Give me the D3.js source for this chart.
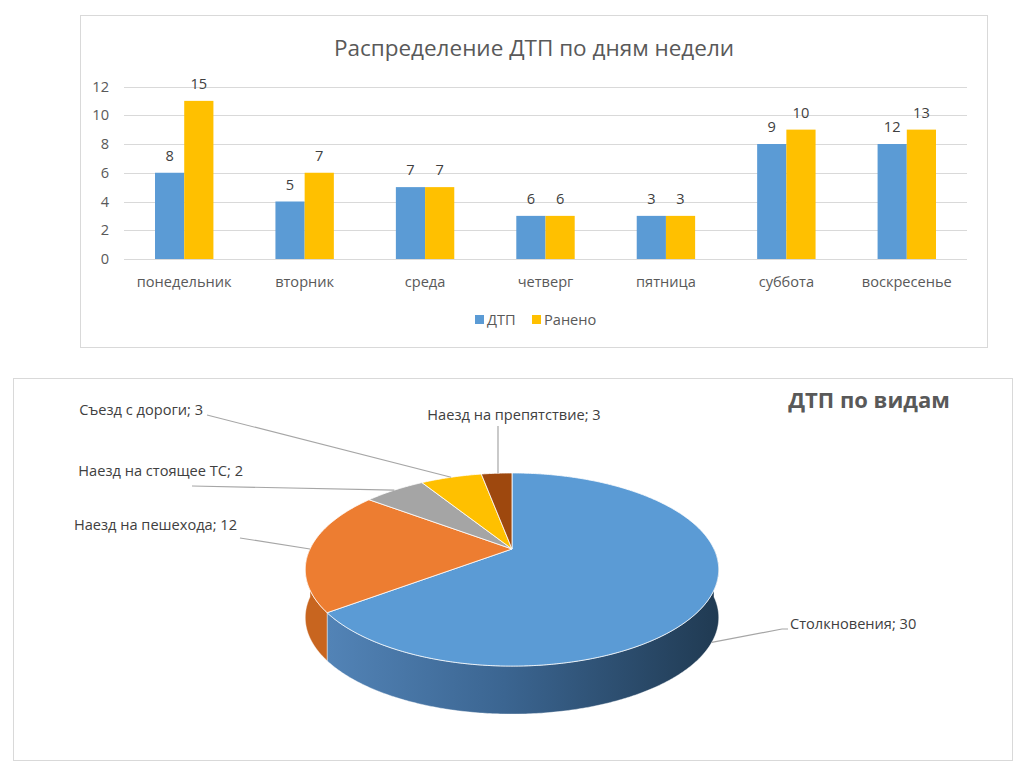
<!DOCTYPE html>
<html>
<head>
<meta charset="utf-8">
<script src="https://cdn.jsdelivr.net/npm/d3@7"></script>
<style>
  body { margin: 0; background: #fff; }
  text { font-family: "Open Sans", "Liberation Sans", sans-serif; fill: #404040; }
</style>
</head>
<body>
<svg id="chart" width="1024" height="767"></svg>
<script>
// bar chart data
const days = ["понедельник", "вторник", "среда", "четверг", "пятница", "суббота", "воскресенье"];
const dtpValues = [6, 4, 5, 3, 3, 8, 8];
const injuredValues = [11, 6, 5, 3, 3, 9, 9];
const dtpLabels = [8, 5, 7, 6, 3, 9, 12];
const injuredLabels = [15, 7, 7, 6, 3, 10, 13];
const yTicks = [0, 2, 4, 6, 8, 10, 12];
const seriesNames = ["ДТП", "Ранено"];

// pie chart data
const types = ["Столкновения", "Наезд на пешехода", "Наезд на стоящее ТС", "Съезд с дороги", "Наезд на препятствие"];
const typeValues = [22, 7, 2, 2, 1];
const typeLabels = [30, 12, 2, 3, 3];

const svg = d3.select("#chart");
const blue = "#5b9bd5", yellow = "#ffc000";
const fs = "14.6px";

// ---------- bar chart ----------
svg.append("rect")
    .attr("x", 80.5).attr("y", 15.5).attr("width", 907).attr("height", 332)
    .attr("fill", "#fff").attr("stroke", "#d9d9d9");

svg.append("text")
    .attr("x", 534).attr("y", 56)
    .attr("text-anchor", "middle")
    .style("font-size", "22.5px")
    .style("fill", "#595959")
    .text("Распределение ДТП по дням недели");

const x0 = d3.scaleBand()
    .domain(days)
    .range([124, 967])
    .paddingInner(0.515)
    .paddingOuter(0.2575);

const x1 = d3.scaleBand()
    .domain(seriesNames)
    .range([0, x0.bandwidth()]);

const y = d3.scaleLinear().domain([0, 12]).range([259, 86.5]);

// gridlines
svg.append("g")
    .selectAll("line")
    .data(yTicks)
    .enter()
    .append("line")
    .attr("x1", 124).attr("x2", 967)
    .attr("y1", d => Math.round(y(d)) + 0.5)
    .attr("y2", d => Math.round(y(d)) + 0.5)
    .attr("stroke", "#d9d9d9");

svg.append("g")
    .selectAll("text")
    .data(yTicks)
    .enter()
    .append("text")
    .attr("x", 109)
    .attr("y", d => y(d) + 5)
    .attr("text-anchor", "end")
    .style("font-size", fs)
    .style("fill", "#595959")
    .text(d => d);

const groups = svg.append("g")
    .selectAll("g")
    .data(days)
    .enter()
    .append("g")
    .attr("transform", d => `translate(${x0(d)},0)`);

const barData = (d, i) => [
    { s: "ДТП", v: dtpValues[i], l: dtpLabels[i], c: blue },
    { s: "Ранено", v: injuredValues[i], l: injuredLabels[i], c: yellow }
];

groups.selectAll("rect")
    .data(barData)
    .enter()
    .append("rect")
    .attr("x", d => x1(d.s))
    .attr("y", d => y(d.v))
    .attr("width", x1.bandwidth())
    .attr("height", d => y(0) - y(d.v))
    .attr("fill", d => d.c);

groups.selectAll("text")
    .data(barData)
    .enter()
    .append("text")
    .attr("x", d => x1(d.s) + x1.bandwidth() / 2)
    .attr("y", d => y(d.v) - 12)
    .attr("text-anchor", "middle")
    .style("font-size", fs)
    .style("fill", "#404040")
    .text(d => d.l);

svg.append("g")
    .selectAll("text")
    .data(days)
    .enter()
    .append("text")
    .attr("x", d => x0(d) + x0.bandwidth() / 2)
    .attr("y", 287)
    .attr("text-anchor", "middle")
    .style("font-size", fs)
    .style("fill", "#595959")
    .text(d => d);

// legend
const legend = svg.append("g");
[{ n: "ДТП", c: blue, x: 475 }, { n: "Ранено", c: yellow, x: 532 }].forEach(d => {
    legend.append("rect").attr("x", d.x).attr("y", 315).attr("width", 9).attr("height", 9).attr("fill", d.c);
    legend.append("text").attr("x", d.x + 12).attr("y", 325)
        .style("font-size", fs).style("fill", "#595959").text(d.n);
});

// ---------- 3D pie ----------
svg.append("rect")
    .attr("x", 13.5).attr("y", 378.5).attr("width", 999).attr("height", 382)
    .attr("fill", "#fff").attr("stroke", "#d9d9d9");

svg.append("text")
    .attr("x", 869).attr("y", 408)
    .attr("text-anchor", "middle")
    .style("font-size", "22px")
    .style("font-weight", "bold")
    .style("fill", "#595959")
    .text("ДТП по видам");

const pieColors = ["#5b9bd5", "#ed7d31", "#a5a5a5", "#ffc000", "#9e480e"];
const sideColors = ["url(#blueSide)", "#c8651f", "#878787", "#d9a300", "#7d390b"];

const defs = svg.append("defs");
const grad = defs.append("linearGradient")
    .attr("id", "blueSide")
    .attr("gradientUnits", "userSpaceOnUse")
    .attr("x1", 329).attr("x2", 719).attr("y1", 0).attr("y2", 0);
grad.append("stop").attr("offset", 0).attr("stop-color", "#5283b6");
grad.append("stop").attr("offset", 0.45).attr("stop-color", "#3b6591");
grad.append("stop").attr("offset", 1).attr("stop-color", "#203a52");

// perspective projection of the tilted disc
const cx = 512, cy = 549, rx = 202, ry = 92.2, persp = 0.2126, depth = 48;
function proj(t, dy = 0) {
    const w = 1 + persp * Math.cos(t);
    return [cx + rx * Math.sin(t) / w, cy - ry * Math.cos(t) / w + dy];
}
function arcPoints(a0, a1, dy = 0) {
    const n = Math.max(2, Math.ceil((a1 - a0) / 0.01));
    return d3.range(n + 1).map(k => proj(a0 + (a1 - a0) * k / n, dy));
}

const pie = d3.pie().sort(null).value(d => d);
const arcs = pie(typeValues);
const line = d3.line();

// side walls (near half only)
const lo = Math.PI / 2, hi = 3 * Math.PI / 2;
const sides = svg.append("g");
arcs.forEach((a, i) => {
    const s = Math.max(a.startAngle, lo), e = Math.min(a.endAngle, hi);
    if (e <= s) return;
    const pts = arcPoints(s, e).concat(arcPoints(s, e, depth).reverse());
    sides.append("path")
        .attr("d", line(pts) + "Z")
        .attr("fill", sideColors[i])
        .attr("stroke", "#fff")
        .attr("stroke-width", 0.6)
        .attr("stroke-opacity", 0.7);
});

// top faces
const tops = svg.append("g");
arcs.forEach((a, i) => {
    const pts = [[cx, cy]].concat(arcPoints(a.startAngle, a.endAngle));
    tops.append("path")
        .attr("d", line(pts) + "Z")
        .attr("fill", pieColors[i])
        .attr("stroke", "#fff")
        .attr("stroke-width", 0.8)
        .attr("stroke-linejoin", "round");
});

// labels with leader lines
const labelLayout = [
    { x: 790, y: 629, anchor: "start", via: [[782, 629], [788, 629]] },
    { x: 237, y: 530, anchor: "end", via: [[240, 538]] },
    { x: 243, y: 476, anchor: "end", via: [[192, 486]] },
    { x: 203, y: 415, anchor: "end", via: [[207, 415]] },
    { x: 514, y: 420, anchor: "middle", via: [[498, 426]] }
];

const labels = svg.append("g");
arcs.forEach((a, i) => {
    const mid = (a.startAngle + a.endAngle) / 2;
    const start = proj(mid, Math.cos(mid) < -0.2 ? depth : 0);
    const L = labelLayout[i];
    let pts;
    if (i === 4) pts = [[L.via[0][0], start[1]], L.via[0]];
    else pts = [start].concat(L.via);
    labels.append("path")
        .attr("d", line(pts))
        .attr("fill", "none")
        .attr("stroke", "#a6a6a6")
        .attr("stroke-width", 1.2);
    labels.append("text")
        .attr("x", L.x).attr("y", L.y)
        .attr("text-anchor", L.anchor)
        .style("font-size", fs)
        .style("fill", "#404040")
        .text(`${types[i]}; ${typeLabels[i]}`);
});
</script>
</body>
</html>
